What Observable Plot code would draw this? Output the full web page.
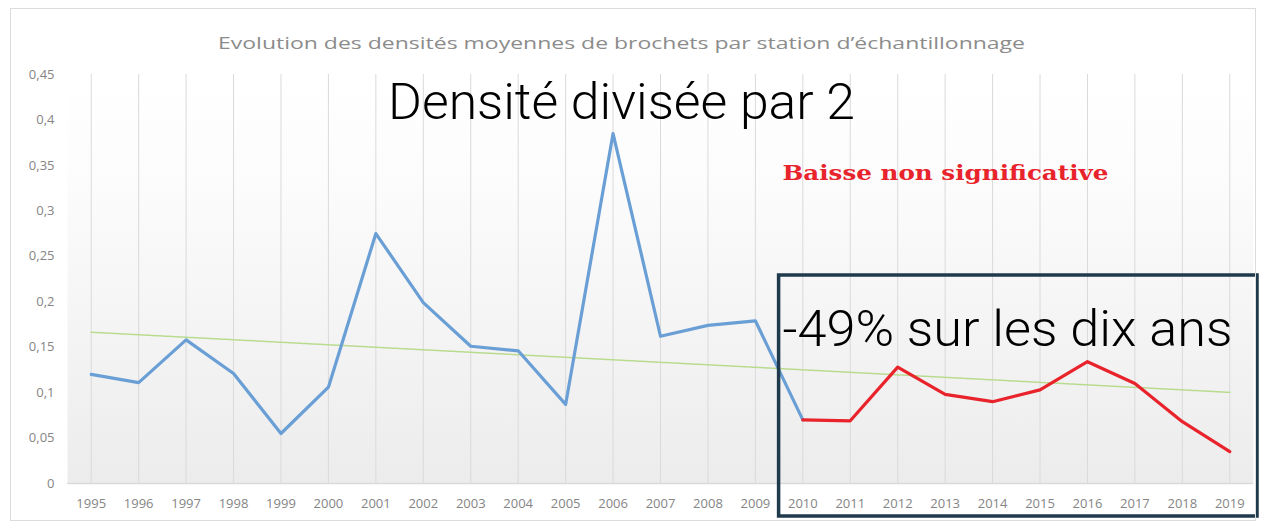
<!DOCTYPE html>
<html>
<head>
<meta charset="utf-8">
<script src="https://cdn.jsdelivr.net/npm/d3@7"></script>
<script src="https://cdn.jsdelivr.net/npm/@observablehq/plot@0.6"></script>
<style>
  html, body { margin: 0; padding: 0; background: #ffffff; }
  #chart { position: relative; width: 1264px; height: 528px; overflow: hidden; }
  #chart svg { display: block; }
  #border { position: absolute; left: 10px; top: 8px; width: 1244px; height: 511px;
            border: 1px solid #dcdcdc; pointer-events: none; }
</style>
</head>
<body>
<div id="chart"><div id="border"></div></div>
<script>
// ---- data ----
const years = [1995, 1996, 1997, 1998, 1999, 2000, 2001, 2002, 2003, 2004, 2005, 2006,
               2007, 2008, 2009, 2010, 2011, 2012, 2013, 2014, 2015, 2016, 2017, 2018, 2019];
const density = [0.120, 0.111, 0.158, 0.121, 0.055, 0.106, 0.275, 0.199, 0.151, 0.146, 0.087, 0.385,
                 0.162, 0.174, 0.179, 0.070, 0.069, 0.128, 0.098, 0.090, 0.103, 0.134, 0.110, 0.068, 0.035];
const yTicks = [0, 0.05, 0.1, 0.15, 0.2, 0.25, 0.3, 0.35, 0.4, 0.45];
const period = [2010, 2019];

const titleText = "Evolution des densités moyennes de brochets par station d\u2019échantillonnage";
const headlineText = "Densité divisée par 2";
const noteText = "Baisse non significative";
const periodText = "-49% sur les dix ans";

// ---- table built from arrays ----
const data = years.map((year, i) => ({year, value: density[i]}));
const before = data.filter(d => d.year <= period[0]);
const after = data.filter(d => d.year >= period[0]);
const fmtY = d => d3.format(".2~f")(d).replace(".", ",");

const plot = Plot.plot({
  width: 1264,
  height: 528,
  marginLeft: 67,
  marginRight: 11,
  marginTop: 74,
  marginBottom: 45,
  style: {background: "transparent", overflow: "visible", fontFamily: "'Open Sans', sans-serif"},
  x: {domain: [1994.5, 2019.5], label: null},
  y: {domain: [0, 0.45], label: null},
  marks: [
    Plot.frame({fill: "url(#bgGrad)", stroke: null}),
    Plot.gridX(years, {stroke: "#dadada", strokeOpacity: 1, strokeWidth: 1}),
    Plot.ruleY([0], {stroke: "#d9d9d9", strokeWidth: 1.5}),
    Plot.axisX(years, {tickSize: 0, tickPadding: 15, tickFormat: d => String(d),
                       fill: "#858585", fontSize: 13, label: null}),
    Plot.axisY(yTicks, {tickSize: 0, tickPadding: 13, tickFormat: fmtY,
                        fill: "#858585", fontSize: 13, label: null}),
    Plot.linearRegressionY(data, {x: "year", y: "value", ci: 0,
                                  stroke: "#b8db8e", strokeWidth: 1.5, strokeDasharray: "2,1"}),
    Plot.line(before, {x: "year", y: "value", stroke: "#6a9fd6", strokeWidth: 3.2}),
    Plot.line(after, {x: "year", y: "value", stroke: "#e8232b", strokeWidth: 3.2}),
    Plot.rect([period], {x1: d => d[0] - 0.5, x2: d => d[1] + 0.5,
                         insetTop: 201, insetBottom: -33, insetRight: -4,
                         fill: "none", stroke: "#1f3a4c", strokeWidth: 3.5}),
    Plot.text([titleText], {frameAnchor: "top", lineAnchor: "bottom", dx: -39, dy: -26,
                            fontSize: 17, fill: "#8c8c8c", fontFamily: "'Open Sans', sans-serif"}),
    Plot.text([headlineText], {frameAnchor: "top", lineAnchor: "bottom", dx: -39, dy: 44,
                               fontSize: 50, fontWeight: 300, fill: "#000000",
                               fontFamily: "Roboto, 'Liberation Sans', sans-serif"}),
    Plot.text([noteText], {frameAnchor: "top", lineAnchor: "bottom", dx: 285, dy: 105,
                           fontSize: 21, fontWeight: "bold", fill: "#e8232b",
                           fontFamily: "'DejaVu Serif', 'Liberation Serif', serif"}),
    Plot.text([periodText], {frameAnchor: "top", lineAnchor: "bottom", dx: 347, dy: 271,
                             fontSize: 50, fontWeight: 300, fill: "#000000",
                             fontFamily: "Roboto, 'Liberation Sans', sans-serif"})
  ]
});

// background gradient for the plot frame
const svg = d3.select(plot);
const grad = svg.insert("defs", ":first-child").append("linearGradient")
  .attr("id", "bgGrad").attr("x1", 0).attr("y1", 0).attr("x2", 0).attr("y2", 1);
grad.append("stop").attr("offset", "0%").attr("stop-color", "#ffffff");
grad.append("stop").attr("offset", "25%").attr("stop-color", "#fcfcfc");
grad.append("stop").attr("offset", "100%").attr("stop-color", "#ececec");

document.getElementById("chart").appendChild(plot);

// match the stretched widths of the annotation texts in the reference
const widths = new Map([[titleText, 807], [headlineText, 467], [noteText, 326], [periodText, 450]]);
svg.selectAll("text").each(function() {
  const w = widths.get(this.textContent);
  if (w) d3.select(this).attr("textLength", w).attr("lengthAdjust", "spacingAndGlyphs");
});
</script>
</body>
</html>
